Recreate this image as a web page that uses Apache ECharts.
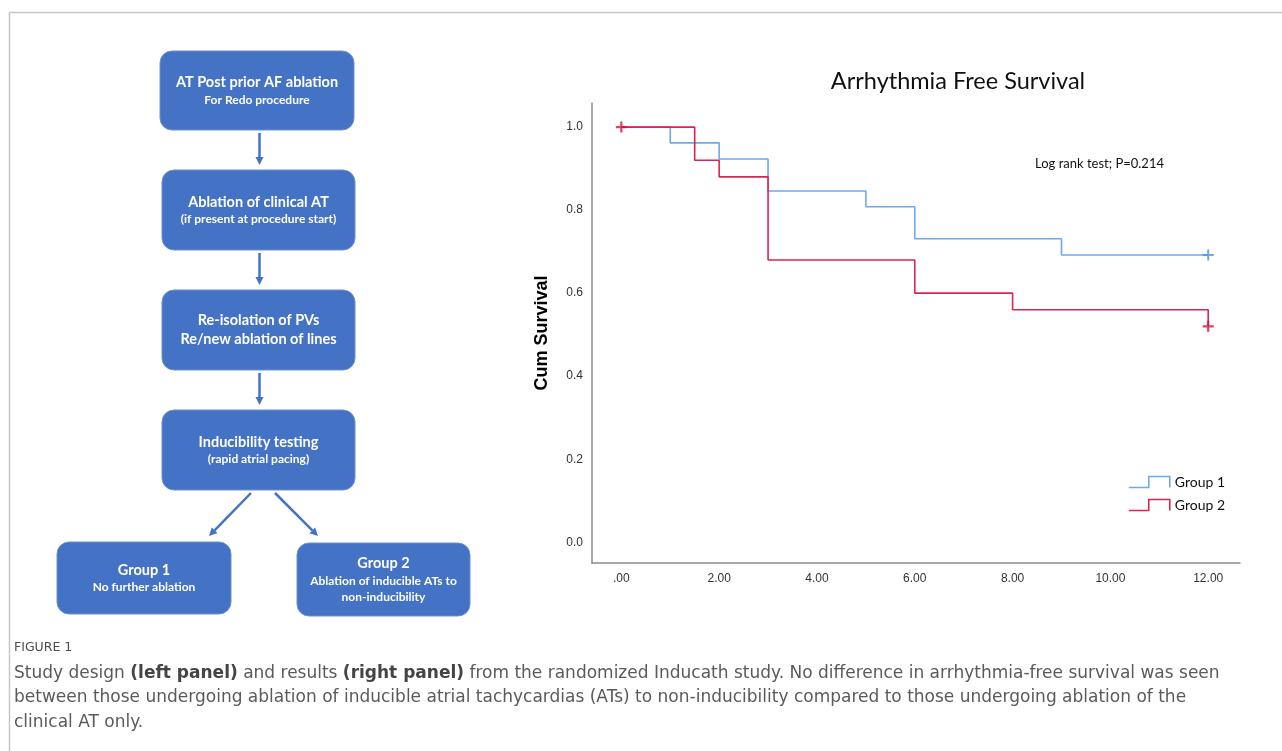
<!DOCTYPE html>
<html><head><meta charset="utf-8">
<script src="https://cdn.jsdelivr.net/npm/echarts@6/dist/echarts.min.js"></script>
<style>html,body{margin:0;padding:0;background:#fff}#c{width:1282px;height:751px}</style>
</head><body><div id="c"></div>
<script>
// ---- Survival data ----
const xTicks = [0, 2, 4, 6, 8, 10, 12];
const yTicks = [0, 0.2, 0.4, 0.6, 0.8, 1.0];
const group1Time = [0, 1, 2, 3, 5, 6, 9, 12];
const group1Surv = [1.0, 0.962, 0.923, 0.846, 0.808, 0.731, 0.692, 0.692];
const group2Time = [0, 1.5, 2, 3, 6, 8, 12];
const group2Surv = [1.0, 0.92, 0.88, 0.68, 0.60, 0.56, 0.52];
const group1CensorTime = [12];
const group1CensorSurv = [0.692];
const group2CensorTime = [0, 12];
const group2CensorSurv = [1.0, 0.52];
const seriesNames = ['Group 1', 'Group 2'];

// ---- Flowchart text ----
const flowTitles = [
  ['AT Post prior AF ablation'],
  ['Ablation of clinical AT'],
  ['Re-isolation of PVs', 'Re/new ablation of lines'],
  ['Inducibility testing'],
  ['Group 1'],
  ['Group 2']
];
const flowSubs = [
  ['For Redo procedure'],
  ['(if present at procedure start)'],
  [],
  ['(rapid atrial pacing)'],
  ['No further ablation'],
  ['Ablation of inducible ATs to', 'non-inducibility']
];
// layout of flowchart boxes in diagram units: [cx, cy, w, h]
const flowLayout = [
  [257, 90.5, 194, 79],
  [258.5, 210, 193, 80],
  [258.5, 330, 193, 80],
  [258.5, 450, 193, 80],
  [144, 578, 174, 72],
  [383.5, 579.5, 173, 73]
];
// arrows in diagram units: [x1, y1, x2, y2]
const flowArrows = [
  [259.5, 133, 259.5, 165],
  [259.5, 253, 259.5, 285],
  [259.5, 373, 259.5, 405],
  [251, 493, 209, 536],
  [275, 493, 318, 536]
];

const BLUE = '#6fa7ee', RED = '#de2352', BOX = '#4472c4';
const captionLines = [
  '{n|Study design }{b|(left panel)}{n| and results }{b|(right panel)}{n| from the randomized Inducath study. No difference in arrhythmia-free survival was seen}',
  '{n|between those undergoing ablation of inducible atrial tachycardias (ATs) to non-inducibility compared to those undergoing ablation of the}',
  '{n|clinical AT only.}'
];

const zip = (a, b) => a.map((v, i) => [v, b[i]]);
const legendIcon = 'path://M0,10L18,10L18,0L37,0L37,10';
const plusIcon = 'path://M0,5L10,5M5,0L5,10';

const chart = echarts.init(document.getElementById('c'), null, {renderer: 'canvas'});
chart.setOption({
  animation: false,
  backgroundColor: '#fff',
  title: [
    {text: 'Arrhythmia Free Survival', left: 953, top: 64, textAlign: 'center',
     textStyle: {fontFamily: 'Lato', fontSize: 23.5, fontWeight: 'normal', color: '#111'}},
    {text: 'Log rank test; P=0.214', left: 1030, top: 152,
     textStyle: {fontFamily: 'Lato', fontSize: 13, fontWeight: 'normal', color: '#111'}}
  ],
  legend: {
    orient: 'vertical', left: 1123, top: 470, itemWidth: 41, itemHeight: 11, itemGap: 9,
    textStyle: {fontFamily: 'Lato', fontSize: 14, color: '#111'},
    symbolKeepAspect: false,
    data: [
      {name: seriesNames[0], icon: legendIcon, itemStyle: {color: 'rgba(0,0,0,0)', borderColor: BLUE, borderWidth: 1.6}},
      {name: seriesNames[1], icon: legendIcon, itemStyle: {color: 'rgba(0,0,0,0)', borderColor: RED, borderWidth: 1.6}}
    ]
  },
  grid: [
    {left: 592, right: 42, top: 103, bottom: 188},
    {left: 0, top: 0, width: 500, height: 640}
  ],
  xAxis: [
    {type: 'value', gridIndex: 0, min: -0.6, max: 12.65,
     axisLine: {show: true, onZero: false, lineStyle: {color: '#8a8a8a', width: 1.5}},
     axisTick: {show: false}, splitLine: {show: false},
     axisLabel: {customValues: xTicks, margin: 10, fontFamily: 'Liberation Sans', fontSize: 12, color: '#333',
       formatter: v => v === 0 ? '.00' : v.toFixed(2)}},
    {type: 'value', gridIndex: 1, min: 0, max: 500, show: false}
  ],
  yAxis: [
    {type: 'value', gridIndex: 0, min: -0.05, max: 1.058,
     name: 'Cum Survival', nameLocation: 'middle', nameGap: 41,
     nameTextStyle: {fontFamily: 'Liberation Sans', fontSize: 18, fontWeight: 'bold', color: '#000'},
     axisLine: {show: true, onZero: false, lineStyle: {color: '#8a8a8a', width: 1.5}},
     axisTick: {show: false}, splitLine: {show: false},
     axisLabel: {customValues: yTicks, margin: 9, fontFamily: 'Liberation Sans', fontSize: 12, color: '#333',
       formatter: v => v.toFixed(1)}},
    {type: 'value', gridIndex: 1, min: 0, max: 640, inverse: true, show: false}
  ],
  series: [
    {name: seriesNames[0], type: 'line', step: 'end', data: zip(group1Time, group1Surv),
     showSymbol: false, symbol: 'none', lineStyle: {color: BLUE, width: 1.6}, itemStyle: {color: BLUE}, z: 3},
    {name: seriesNames[1], type: 'line', step: 'end', data: zip(group2Time, group2Surv),
     showSymbol: false, symbol: 'none', lineStyle: {color: RED, width: 1.6}, itemStyle: {color: RED}, z: 4},
    {name: 'Group 1 censored', type: 'scatter', data: zip(group1CensorTime, group1CensorSurv),
     symbol: plusIcon, symbolSize: 11, itemStyle: {color: 'rgba(0,0,0,0)', borderColor: '#4f8fe6', borderWidth: 2}, z: 5},
    {name: 'Group 2 censored', type: 'scatter', data: zip(group2CensorTime, group2CensorSurv),
     symbol: plusIcon, symbolSize: 11, itemStyle: {color: 'rgba(0,0,0,0)', borderColor: '#d90f3f', borderWidth: 2.2}, z: 6},
    {type: 'custom', xAxisIndex: 1, yAxisIndex: 1, clip: false, silent: true,
     data: flowLayout,
     renderItem: (params, api) => {
       const i = params.dataIndex;
       const c = api.coord([api.value(0), api.value(1)]);
       const w = api.value(2), h = api.value(3);
       const parts = flowTitles[i].map(t => '{t|' + t + '}').concat(flowSubs[i].map(s => '{s|' + s + '}'));
       return {type: 'group', children: [
         {type: 'rect', shape: {x: c[0] - w / 2, y: c[1] - h / 2, width: w, height: h, r: 12},
          style: {fill: BOX, stroke: '#6f90cf', lineWidth: 1}},
         {type: 'text', x: c[0], y: c[1],
          style: {text: parts.join('\n'), align: 'center', verticalAlign: 'middle',
            rich: {
              t: {fill: '#fff', fontFamily: 'Lato', fontWeight: 'bold', fontSize: 14.5, lineHeight: 19, align: 'center'},
              s: {fill: '#fff', fontFamily: 'Lato', fontWeight: 'bold', fontSize: 12, lineHeight: 16, align: 'center'}
            }}}
       ]};
     }},
    {type: 'custom', xAxisIndex: 1, yAxisIndex: 1, clip: false, silent: true,
     data: flowArrows,
     renderItem: (params, api) => {
       const p1 = api.coord([api.value(0), api.value(1)]);
       const p2 = api.coord([api.value(2), api.value(3)]);
       const ang = Math.atan2(p2[1] - p1[1], p2[0] - p1[0]);
       const L = 8, W = 4;
       const bx = p2[0] - L * Math.cos(ang), by = p2[1] - L * Math.sin(ang);
       const nx = -Math.sin(ang) * W, ny = Math.cos(ang) * W;
       return {type: 'group', children: [
         {type: 'line', shape: {x1: p1[0], y1: p1[1], x2: bx, y2: by}, style: {stroke: BOX, lineWidth: 2.5}},
         {type: 'polygon', shape: {points: [[p2[0], p2[1]], [bx + nx, by + ny], [bx - nx, by - ny]]}, style: {fill: BOX}}
       ]};
     }}
  ],
  graphic: [
    {type: 'line', shape: {x1: 9, y1: 12.5, x2: 1282, y2: 12.5}, style: {stroke: '#c6c6c6', lineWidth: 1.5}},
    {type: 'line', shape: {x1: 9.5, y1: 12, x2: 9.5, y2: 751}, style: {stroke: '#c6c6c6', lineWidth: 1.5}},
    {type: 'text', x: 14, y: 641, style: {text: 'FIGURE 1', font: '12.5px "DejaVu Sans"', fill: '#4d4d4d'}},
    {type: 'text', x: 14, y: 661, style: {text: captionLines.join('\n'),
      rich: {
        n: {fontFamily: 'DejaVu Sans', fontSize: 17, fill: '#5a5a5a', lineHeight: 24.5},
        b: {fontFamily: 'DejaVu Sans', fontSize: 17, fontWeight: 'bold', fill: '#444', lineHeight: 24.5}
      }}}
  ]
});
</script></body></html>
